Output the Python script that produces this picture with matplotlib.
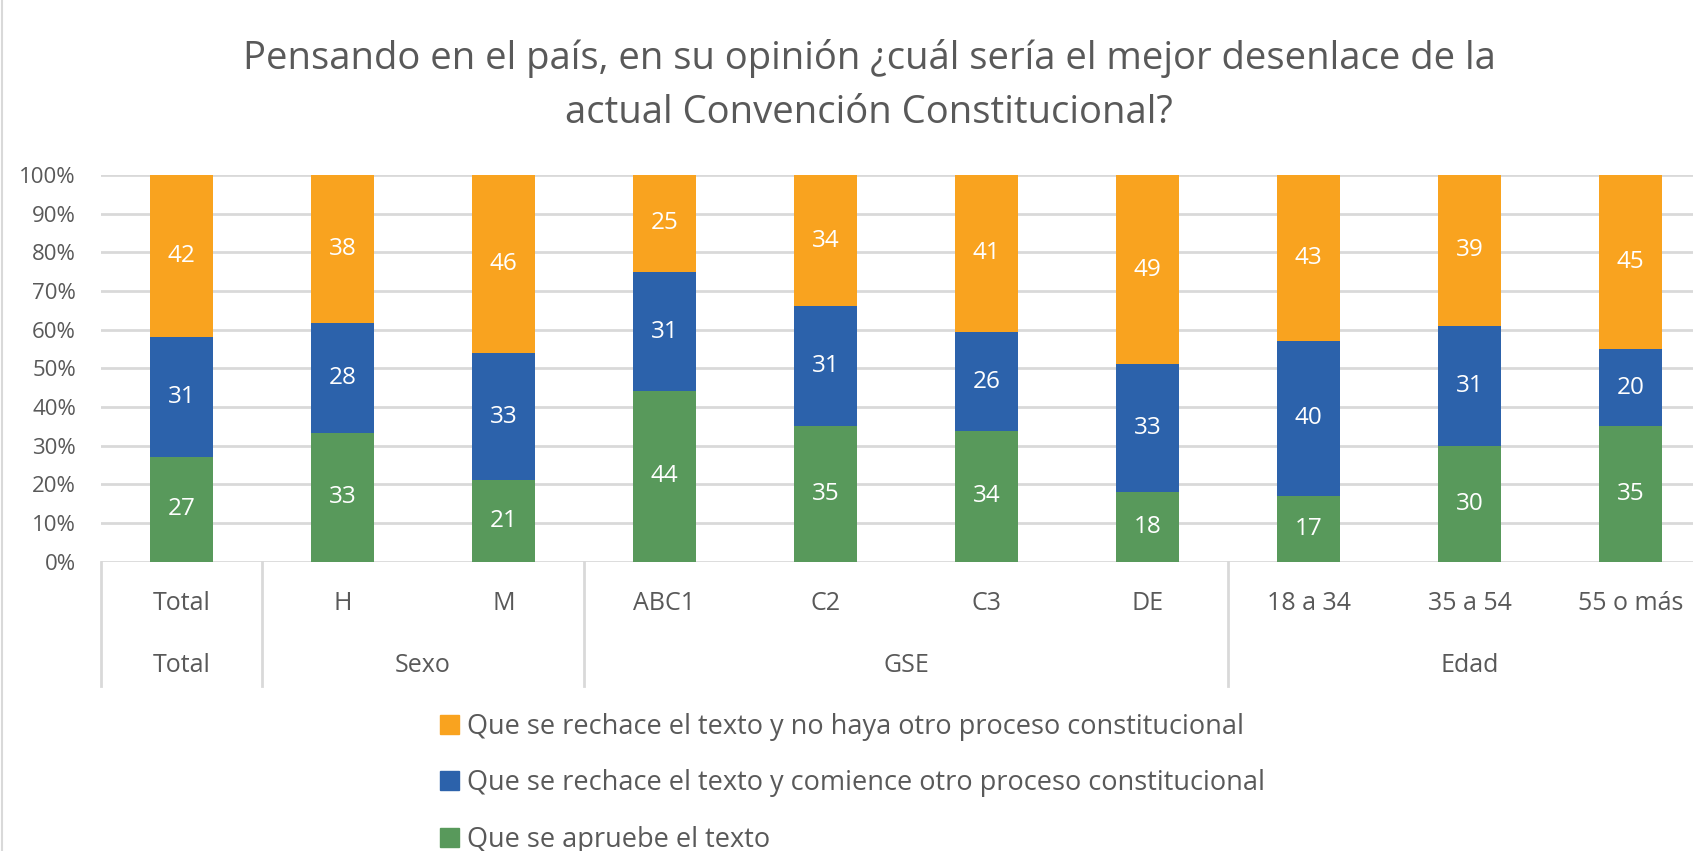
import numpy as np
import matplotlib
matplotlib.use("Agg")
import matplotlib.pyplot as plt
from matplotlib.patches import Patch
from matplotlib.transforms import blended_transform_factory

plt.rcParams['font.family'] = ['Open Sans', 'DejaVu Sans']

categories = ["Total", "H", "M", "ABC1", "C2", "C3", "DE", "18 a 34", "35 a 54", "55 o más"]
groups = [("Total", 0, 0), ("Sexo", 1, 2), ("GSE", 3, 6), ("Edad", 7, 9)]

aprueba = [27, 33, 21, 44, 35, 34, 18, 17, 30, 35]
rechaza_otro = [31, 28, 33, 31, 31, 26, 33, 40, 31, 20]
rechaza_no = [42, 38, 46, 25, 34, 41, 49, 43, 39, 45]

series = [
    ("Que se apruebe el texto", aprueba, "#58995B"),
    ("Que se rechace el texto y comience otro proceso constitucional", rechaza_otro, "#2C62AB"),
    ("Que se rechace el texto y no haya otro proceso constitucional", rechaza_no, "#F9A31F"),
]

grey = "#595959"
W, H = 1693, 851
fig = plt.figure(figsize=(W / 100, H / 100), dpi=100)
ax = fig.add_axes([101 / W, (H - 561.5) / H, 1610 / W, 386.5 / H])

x = np.arange(len(categories))
totals = np.array(aprueba) + np.array(rechaza_otro) + np.array(rechaza_no)
bottom = np.zeros(len(categories))
for name, vals, col in series:
    share = np.array(vals) / totals
    ax.bar(x, share, 0.39, bottom=bottom, color=col, label=name, zorder=3)
    for xi, b, s, v in zip(x, bottom, share, vals):
        ax.text(xi, b + s / 2, str(v), ha="center", va="center",
                color="white", fontsize=17.5, zorder=4)
    bottom += share

ax.set_xlim(-0.5, len(categories) - 0.5)
ax.set_ylim(0, 1)
ax.set_yticks(np.arange(0, 1.01, 0.1))
ax.set_yticklabels([f"{int(round(t * 100))}%" for t in np.arange(0, 1.01, 0.1)])
ax.tick_params(axis="y", length=0, pad=18, labelsize=16, labelcolor=grey)
ax.set_xticks([])
ax.grid(axis="y", color="#D9D9D9", linewidth=2, zorder=0)
for s in ax.spines.values():
    s.set_visible(False)

# two-level category axis
tr = blended_transform_factory(ax.transData, fig.transFigure)
y_top, y_bot = (H - 561.5) / H, (H - 686) / H
for xi, c in zip(x, categories):
    fig.text(xi, (H - 604) / H, c, transform=tr, ha="center", va="center",
             fontsize=18, color=grey)
for g, a, b in groups:
    fig.text((a + b) / 2, (H - 666) / H, g, transform=tr, ha="center", va="center",
             fontsize=18, color=grey)
for a in [-0.5, 0.5, 2.5, 6.5, 9.5]:
    fig.add_artist(plt.Line2D([a, a], [y_top, y_bot], transform=tr,
                              color="#D9D9D9", linewidth=2))

# frame line at the left edge
fig.add_artist(plt.Line2D([2 / W, 2 / W], [0, 1], transform=fig.transFigure,
                          color="#D9D9D9", linewidth=1.5))

fig.text(869 / W, (H - 59) / H,
         "Pensando en el país, en su opinión ¿cuál sería el mejor desenlace de la",
         ha="center", va="center", fontsize=27.5, color=grey)
fig.text(869 / W, (H - 113) / H, "actual Convención Constitucional?",
         ha="center", va="center", fontsize=27.5, color=grey)

handles = [Patch(color=col, label=name) for name, vals, col in series[::-1]]
fig.legend(handles=handles, loc="upper left", bbox_to_anchor=(440 / W, (H - 713) / H),
           frameon=False, fontsize=19.5, labelcolor=grey, labelspacing=1.05,
           handlelength=0.7, handleheight=0.7, handletextpad=0.3, borderpad=0,
           borderaxespad=0)

fig.savefig("out.png", dpi=100)
